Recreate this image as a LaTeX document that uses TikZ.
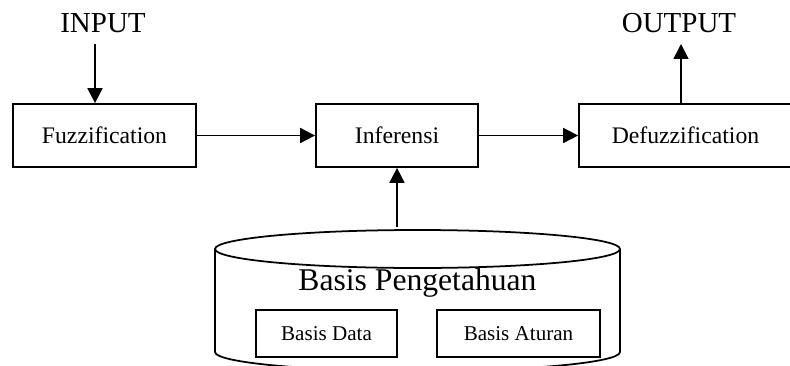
\documentclass[tikz,border=0pt]{standalone}
\usepackage{fontspec}
\setmainfont{Liberation Serif}
\usepackage{tikz}
\usetikzlibrary{arrows.meta}

\begin{document}
\begin{tikzpicture}[x=0.02cm, y=-0.02cm, line width=1pt,
  blok/.style={draw, minimum height=1.26cm, inner sep=0pt, font=\fontsize{13.5}{16}\selectfont},
  kotak/.style={draw, minimum height=0.94cm, inner sep=0pt, font=\fontsize{12}{14}\selectfont},
  label io/.style={inner sep=0pt, font=\fontsize{16.5}{18}\selectfont},
  panah/.style={-{Triangle[length=8.5pt, width=8.5pt]}}]
  \useasboundingbox (0,0) rectangle (790,365);

  % Main blocks
  \node[blok, minimum width=3.66cm] (fuzz) at (104.5,135.5) {Fuzzification};
  \node[blok, minimum width=3.24cm] (infer) at (397,135.5) {Inferensi};
  \node[blok, minimum width=4.26cm] (defuzz) at (685.5,135.5) {Defuzzification};

  % Input and output
  \node[label io] (input) at (103,23) {INPUT};
  \node[label io] (output) at (679,23) {OUTPUT};
  \coordinate (in) at (95,44);
  \coordinate (out) at (681,44);
  \draw[panah] (in) -- (in |- fuzz.north);
  \draw[panah] (out |- defuzz.north) -- (out);

  % Flow between blocks
  \draw[panah] (fuzz.east) -- (infer.west);
  \draw[panah] (infer.east) -- (defuzz.west);

  % Knowledge base (cylinder, bottom cut off)
  \draw (417.5,249) ellipse[x radius=202.5, y radius=19];
  \draw (215,249) -- (215,352) arc[start angle=180, end angle=0, x radius=202.5, y radius=19] -- (620,249);
  \node[inner sep=0pt, font=\fontsize{18}{20}\selectfont] (kbtext) at (417.5,283) {Basis Pengetahuan};
  \node[kotak, minimum width=2.82cm] (bdata) at (326.5,333.5) {Basis Data};
  \node[kotak, minimum width=3.26cm] (baturan) at (518.5,333.5) {Basis Aturan};
  \coordinate (kb) at (397,227);
  \draw[panah] (kb) -- (infer.south);
\end{tikzpicture}
\end{document}
